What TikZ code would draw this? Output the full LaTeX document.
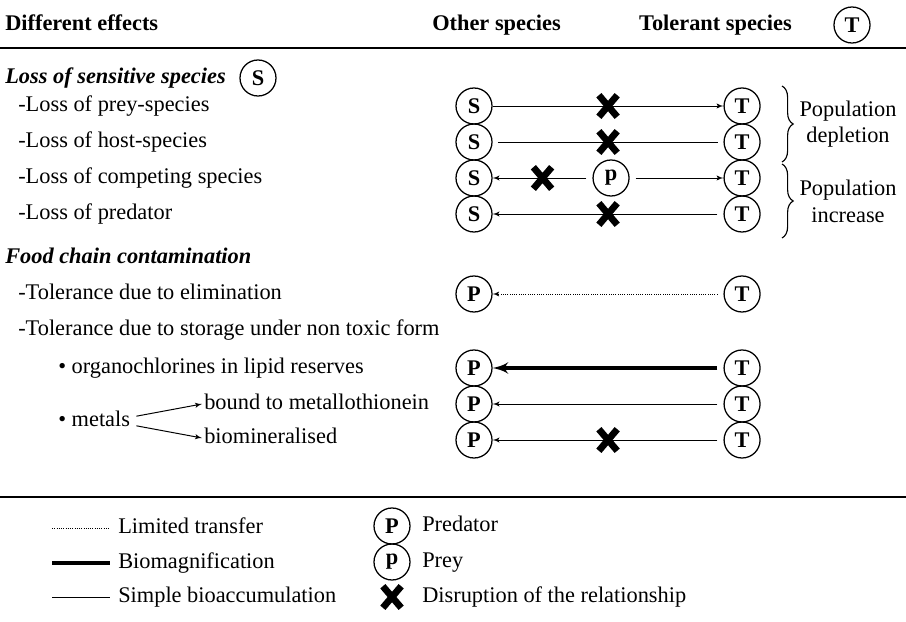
\documentclass[tikz,border=0pt]{standalone}
\usepackage{fontspec}
\setmainfont{Liberation Serif}
\usetikzlibrary{shapes,arrows,decorations.pathreplacing}
\tikzstyle{sp} = [circle, draw, line width=0.9pt, minimum size=0.9cm, inner sep=0pt, font=\bfseries]
\tikzstyle{txt} = [anchor=west, inner sep=0pt, text height=1.6ex, text depth=0.5ex]
\tikzstyle{line} = [draw, line width=0.7pt, -latex']
\tikzstyle{plain} = [draw, line width=0.7pt]
\tikzstyle{thickline} = [draw, line width=2.8pt, -latex']
\tikzstyle{dotline} = [draw, line width=0.6pt, densely dotted, -latex']
\tikzstyle{xmark} = [cross out, draw, solid, -, line width=4.8pt, minimum width=0.29cm,
    minimum height=0.37cm, inner sep=0pt, shorten <=0pt, shorten >=0pt]
\tikzstyle{rule} = [draw, line width=1.5pt]
\tikzstyle{grp} = [draw, line width=0.8pt, decorate, decoration={brace, amplitude=0.28cm}]

\begin{document}
\fontsize{15.9}{19}\selectfont
\begin{tikzpicture}[x=0.025cm, y=-0.025cm, node distance=6.7cm]
	\useasboundingbox (0,0) rectangle (906,622);
	% header
	\node [txt, font=\bfseries] (diff) at (5,25) {Different effects};
	\node [txt, font=\bfseries] (other) at (432,25) {Other species};
	\node [txt, anchor=east, font=\bfseries] (tolr) at (792,25) {Tolerant species};
	\node [sp] (ticon) at (852,25) {T};
	\draw [rule] (0,48) -- (906,48);

	% loss of sensitive species
	\node [txt, font=\bfseries\itshape] (loss) at (5,78) {Loss of sensitive species};
	\node [sp] (sicon) at (258,78) {S};
	\node [txt] (prey) at (18,106) {-Loss of prey-species};
	\node [txt] (host) at (18,142) {-Loss of host-species};
	\node [txt] (comp) at (18,178) {-Loss of competing species};
	\node [txt] (pred) at (18,214) {-Loss of predator};

	\node [sp] (s1) at (474,106) {S};
	\node [sp, right of=s1] (t1) {T};
	\node [sp] (s2) at (474,142) {S};
	\node [sp, right of=s2] (t2) {T};
	\node [sp] (s3) at (474,178) {S};
	\node [sp, right of=s3] (t3) {T};
	\node [sp, right of=s3, node distance=3.425cm] (p3) {p};
	\node [sp] (s4) at (474,214) {S};
	\node [sp, right of=s4] (t4) {T};

	\path [line] (s1) edge node [xmark] {} (t1);
	\path [plain, shorten <=1.3mm, shorten >=1.3mm] (s2) edge node [xmark] {} (t2);
	\path [line, shorten <=1.5mm] (p3) edge node [xmark] {} (s3);
	\path [line, shorten <=1.5mm] (p3) edge (t3);
	\path [line, shorten <=1.5mm] (t4) edge node [xmark] {} (s4);

	\coordinate (b1a) at (782,86);
	\coordinate (b1b) at (782,162);
	\coordinate (b2a) at (782,164);
	\coordinate (b2b) at (782,238);
	\draw [grp] (b1a) -- (b1b);
	\draw [grp] (b2a) -- (b2b);
	\node [align=center] (depl) at (848,124) {Population\\depletion};
	\node [align=center] (incr) at (848,201) {Population\\increase};

	% food chain
	\node [txt, font=\bfseries\itshape] (food) at (5,258) {Food chain contamination};
	\node [txt] (elim) at (18,294) {-Tolerance due to elimination};
	\node [txt] (stor) at (18,330) {-Tolerance due to storage under non toxic form};
	\node [txt] (orga) at (58,368) {\textbullet\ organochlorines in lipid reserves};
	\node [txt] (metals) at (58,421) {\textbullet\ metals};
	\node [txt] (bound) at (204,404) {bound to metallothionein};
	\node [txt] (biomin) at (204,438) {biomineralised};
	\draw [line] ([xshift=1.5mm, yshift=1.2mm]metals.east) -- ([xshift=-0.5mm]bound.west);
	\draw [line] ([xshift=1.5mm, yshift=-1.2mm]metals.east) -- ([xshift=-0.5mm]biomin.west);

	\node [sp] (p5) at (474,294) {P};
	\node [sp, right of=p5] (t5) {T};
	\node [sp] (p6) at (474,368) {P};
	\node [sp, right of=p6] (t6) {T};
	\node [sp] (p7) at (474,404) {P};
	\node [sp, right of=p7] (t7) {T};
	\node [sp] (p8) at (474,440) {P};
	\node [sp, right of=p8] (t8) {T};

	\path [dotline, shorten <=1.5mm] (t5) edge (p5);
	\path [thickline, shorten <=1.5mm] (t6) edge (p6);
	\path [line, shorten <=1.5mm] (t7) edge (p7);
	\path [line, shorten <=1.5mm] (t8) edge node [xmark] {} (p8);

	\draw [rule] (0,497) -- (906,497);

	% legend
	\node [txt] (ltr) at (118,528) {Limited transfer};
	\node [txt] (lbio) at (118,563) {Biomagnification};
	\node [txt] (lsim) at (118,597) {Simple bioaccumulation};
	\coordinate (l1) at (52,528);
	\coordinate (l2) at (52,563);
	\coordinate (l3) at (52,597);
	\draw [line width=0.6pt, densely dotted] (l1) -- ([xshift=-2mm]ltr.west);
	\draw [line width=2.8pt] (l2) -- ([xshift=-2mm]lbio.west);
	\draw [line width=0.7pt] (l3) -- ([xshift=-2mm]lsim.west);

	\node [sp] (lpred) at (392,526) {P};
	\node [txt] (lpredt) at (422,526) {Predator};
	\node [sp] (lprey) at (392,562) {p};
	\node [txt] (lpreyt) at (422,562) {Prey};
	\node [xmark] (lx) at (392,597) {};
	\node [txt] (lxt) at (422,597) {Disruption of the relationship};
\end{tikzpicture}
\end{document}
